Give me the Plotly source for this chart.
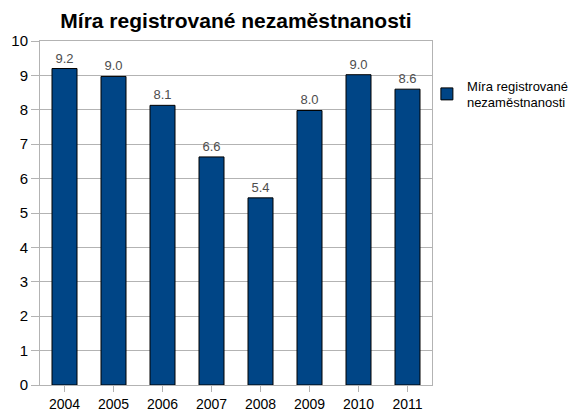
import plotly.graph_objects as go

# Registered unemployment rate by year (%)
years = ["2004", "2005", "2006", "2007", "2008", "2009", "2010", "2011"]
rates = [9.2, 8.97, 8.13, 6.63, 5.44, 7.98, 9.02, 8.6]
y_ticks = [0, 1, 2, 3, 4, 5, 6, 7, 8, 9, 10]
series_name = "Míra registrované<br>nezaměstnanosti"
title_text = "Míra registrované nezaměstnanosti"

FONT = "Liberation Sans, Arial, sans-serif"
GRID = "#b3b3b3"

fig = go.Figure()
fig.add_trace(go.Bar(
    x=years,
    y=rates,
    name=series_name,
    marker=dict(color="#004586", line=dict(color="#000000", width=1)),
    texttemplate="%{y:.1f}",
    textposition="outside",
    textfont=dict(family=FONT, size=13, color="#4d4d4d"),
    cliponaxis=False,
    showlegend=True,
))

fig.update_layout(
    width=573,
    height=412,
    margin=dict(l=40, r=141, t=41, b=27, autoexpand=False),
    paper_bgcolor="white",
    plot_bgcolor="white",
    bargap=0.49,
    font=dict(family=FONT, size=15, color="#000000"),
    title=dict(
        text="<b>" + title_text + "</b>",
        x=0.5, xref="paper", xanchor="center",
        y=0.951, yref="container", yanchor="middle",
        font=dict(family=FONT, size=21, color="#000000"),
    ),
    legend=dict(
        x=0.987, xanchor="left",
        y=0.846, yanchor="middle",
        font=dict(family=FONT, size=13, color="#000000"),
        bgcolor="rgba(0,0,0,0)",
        itemwidth=30,
        tracegroupgap=0,
    ),
)

fig.update_xaxes(
    type="category",
    automargin=False,
    showline=True, linecolor=GRID, linewidth=1, mirror=True,
    ticks="outside", ticklen=6, tickcolor=GRID,
    tickfont=dict(family=FONT, size=14, color="#000000"),
    showgrid=False,
)
fig.update_yaxes(
    range=[0, 10],
    tickvals=y_ticks,
    automargin=False,
    showline=True, linecolor=GRID, linewidth=1, mirror=True,
    ticks="outside", ticklen=8, tickcolor=GRID,
    showgrid=True, gridcolor=GRID, gridwidth=1,
    tickfont=dict(family=FONT, size=15, color="#000000"),
    zeroline=False,
)

fig.write_html("out.html")
